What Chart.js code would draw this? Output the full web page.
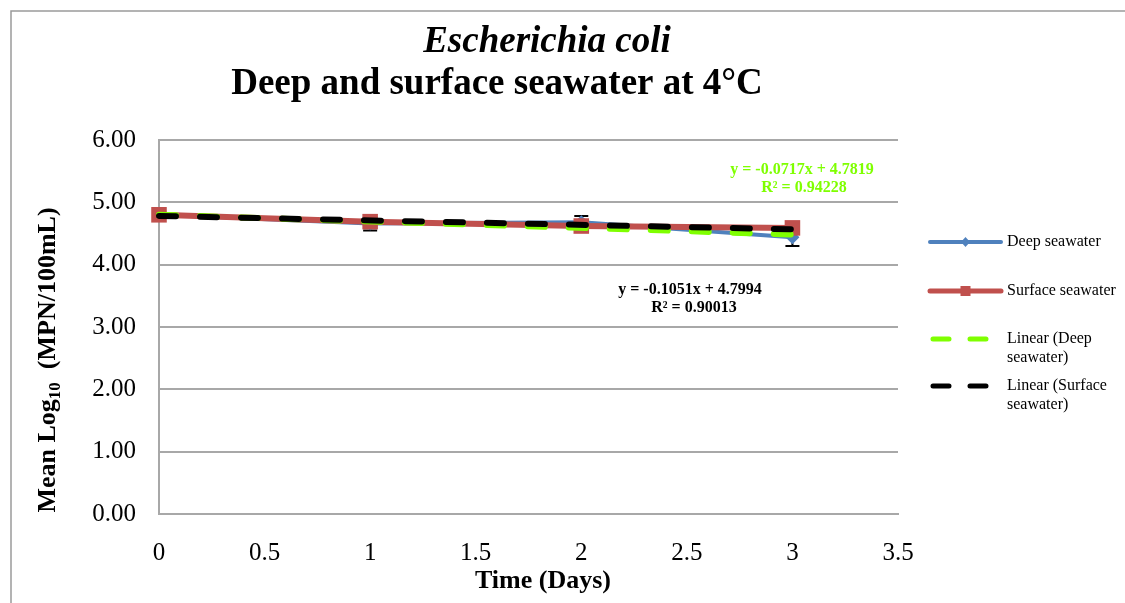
<!DOCTYPE html>
<html>
<head>
<meta charset="utf-8">
<script src="https://cdn.jsdelivr.net/npm/chart.js@4.4.1/dist/chart.umd.min.js"></script>
<style>
html,body{margin:0;padding:0;background:#fff;}
#wrap{width:1125px;height:603px;position:relative;}
</style>
</head>
<body>
<div id="wrap"><canvas id="c" width="1125" height="603"></canvas></div>
<script>
// ---- data ----
const days = [0, 1, 2, 3];
const deepSeawater = [4.80, 4.66, 4.68, 4.44];
const surfaceSeawater = [4.80, 4.69, 4.62, 4.59];
const deepError = [0, 0.11, 0.10, 0.14];
const trendX = [0, 3];
const trendDeep = [4.7994, 4.4841];     // green dashed
const trendSurface = [4.7819, 4.5668];  // black dashed
const xTicks = [0, 0.5, 1, 1.5, 2, 2.5, 3, 3.5];
const yTicks = [0, 1, 2, 3, 4, 5, 6];
const titleLine1 = 'Escherichia coli';
const titleLine2 = 'Deep and surface seawater at 4°C';
const xTitle = 'Time (Days)';
const eqGreen = ['y = -0.0717x + 4.7819', 'R² = 0.94228'];
const eqBlack = ['y = -0.1051x + 4.7994', 'R² = 0.90013'];
const legendItems = [
  {label: ['Deep seawater'], kind: 'deep'},
  {label: ['Surface seawater'], kind: 'surface'},
  {label: ['Linear (Deep', 'seawater)'], kind: 'green'},
  {label: ['Linear (Surface', 'seawater)'], kind: 'black'}
];

const BLUE = '#4F81BD', RED = '#C0504D', GREEN = '#7FFF00', BLACK = '#000000';
const SERIF = '"Liberation Serif", "Times New Roman", serif';

const pts = (xs, ys) => xs.map((x, i) => ({x: x, y: ys[i]}));

const errorBars = {
  id: 'errorBars',
  beforeDatasetsDraw(chart) {
    const {ctx, scales: {x, y}} = chart;
    ctx.save();
    ctx.strokeStyle = '#000';
    ctx.lineWidth = 2;
    days.forEach((d, i) => {
      const e = deepError[i];
      if (!e) return;
      const px = x.getPixelForValue(d);
      const top = y.getPixelForValue(deepSeawater[i] + e);
      const bot = y.getPixelForValue(deepSeawater[i] - e);
      ctx.beginPath();
      ctx.moveTo(px, top); ctx.lineTo(px, bot);
      ctx.moveTo(px - 7, top); ctx.lineTo(px + 7, top);
      ctx.moveTo(px - 7, bot); ctx.lineTo(px + 7, bot);
      ctx.stroke();
    });
    ctx.restore();
  }
};

const decor = {
  id: 'decor',
  afterDraw(chart) {
    const {ctx} = chart;
    ctx.save();
    // outer border
    ctx.strokeStyle = '#9A9A9A';
    ctx.lineWidth = 1.5;
    ctx.beginPath();
    ctx.moveTo(11, 603); ctx.lineTo(11, 11); ctx.lineTo(1125, 11);
    ctx.stroke();

    // titles
    ctx.fillStyle = '#000';
    ctx.textAlign = 'center';
    ctx.textBaseline = 'middle';
    ctx.font = 'italic bold 37px ' + SERIF;
    ctx.fillText(titleLine1, 547, 42);
    ctx.font = 'bold 37px ' + SERIF;
    ctx.fillText(titleLine2, 497, 84);

    // x title
    ctx.font = 'bold 26px ' + SERIF;
    ctx.fillText(xTitle, 543, 581);

    // y title with subscript
    ctx.save();
    ctx.translate(46, 360);
    ctx.rotate(-Math.PI / 2);
    const fMain = 'bold 26px ' + SERIF, fSub = 'bold 17px ' + SERIF;
    const parts = [['Mean Log', fMain, 0], ['10', fSub, 5], ['  (MPN/100mL)', fMain, 0]];
    let total = 0;
    parts.forEach(p => { ctx.font = p[1]; total += ctx.measureText(p[0]).width; });
    let cx = -total / 2;
    ctx.textAlign = 'left';
    ctx.textBaseline = 'alphabetic';
    parts.forEach(p => {
      ctx.font = p[1];
      ctx.fillText(p[0], cx, 9 + p[2]);
      cx += ctx.measureText(p[0]).width;
    });
    ctx.restore();

    // trendline equations
    ctx.textAlign = 'center';
    ctx.textBaseline = 'middle';
    ctx.font = 'bold 16px ' + SERIF;
    ctx.fillStyle = GREEN;
    ctx.fillText(eqGreen[0], 802, 170);
    ctx.fillText(eqGreen[1], 804, 188);
    ctx.fillStyle = '#000';
    ctx.fillText(eqBlack[0], 690, 290);
    ctx.fillText(eqBlack[1], 694, 308);

    // legend
    const ys = [242, 291, 339, 386];
    ctx.textAlign = 'left';
    ctx.textBaseline = 'middle';
    ctx.font = '16px ' + SERIF;
    legendItems.forEach((it, i) => {
      const y0 = ys[i];
      const x0 = 930, x1 = 1001;
      ctx.lineCap = 'round';
      if (it.kind === 'deep') {
        ctx.strokeStyle = BLUE; ctx.lineWidth = 4;
        ctx.beginPath(); ctx.moveTo(x0, y0); ctx.lineTo(x1, y0); ctx.stroke();
        ctx.fillStyle = BLUE;
        ctx.beginPath(); ctx.moveTo(965.5, y0 - 5); ctx.lineTo(970, y0); ctx.lineTo(965.5, y0 + 5); ctx.lineTo(961, y0); ctx.closePath(); ctx.fill();
      } else if (it.kind === 'surface') {
        ctx.strokeStyle = RED; ctx.lineWidth = 5;
        ctx.beginPath(); ctx.moveTo(x0, y0); ctx.lineTo(x1, y0); ctx.stroke();
        ctx.fillStyle = RED;
        ctx.fillRect(960.5, y0 - 5, 10, 10);
      } else {
        ctx.strokeStyle = it.kind === 'green' ? GREEN : BLACK;
        ctx.lineWidth = 5;
        ctx.beginPath();
        ctx.moveTo(933, y0); ctx.lineTo(949, y0);
        ctx.moveTo(970, y0); ctx.lineTo(986, y0);
        ctx.stroke();
      }
      ctx.fillStyle = '#000';
      it.label.forEach((t, k) => ctx.fillText(t, 1007, y0 + k * 19));
    });
    ctx.restore();
  }
};

new Chart(document.getElementById('c'), {
  type: 'line',
  data: {
    datasets: [
      {
        label: 'Linear (Surface seawater)',
        data: pts(trendX, trendSurface),
        borderColor: BLACK, borderWidth: 6, borderDash: [17, 24], borderCapStyle: 'round',
        pointRadius: 0, order: 1, clip: false
      },
      {
        label: 'Linear (Deep seawater)',
        data: pts(trendX, trendDeep),
        borderColor: GREEN, borderWidth: 6, borderDash: [17, 24], borderCapStyle: 'round',
        pointRadius: 0, order: 2, clip: false
      },
      {
        label: 'Surface seawater',
        data: pts(days, surfaceSeawater),
        borderColor: RED, backgroundColor: RED, borderWidth: 6,
        pointStyle: 'rect', pointRadius: 11, pointBorderWidth: 0, order: 3, clip: false
      },
      {
        label: 'Deep seawater',
        data: pts(days, deepSeawater),
        borderColor: BLUE, backgroundColor: BLUE, borderWidth: 4,
        pointStyle: 'rectRot', pointRadius: 7, pointBorderWidth: 0, order: 4, clip: false
      }
    ]
  },
  options: {
    responsive: false,
    animation: false,
    events: [],
    layout: {padding: {left: 0, top: 140, right: 227, bottom: 0}},
    plugins: {legend: {display: false}, title: {display: false}, tooltip: {enabled: false}},
    elements: {line: {tension: 0}},
    scales: {
      x: {
        type: 'linear', min: 0, max: 3.5,
        afterBuildTicks: s => { s.ticks = xTicks.map(v => ({value: v})); },
        afterFit: s => { s.height = 89; },
        grid: {display: false, drawTicks: false},
        border: {display: true, color: '#A8A8A8', width: 2},
        ticks: {padding: 24, color: '#000', font: {family: SERIF, size: 25}, callback: v => String(v)}
      },
      y: {
        type: 'linear', min: 0, max: 6,
        afterBuildTicks: s => { s.ticks = yTicks.map(v => ({value: v})); },
        afterFit: s => { s.width = 159; },
        grid: {color: '#A8A8A8', lineWidth: 2, drawTicks: false},
        border: {display: true, color: '#A8A8A8', width: 2},
        ticks: {padding: 23, color: '#000', font: {family: SERIF, size: 25}, callback: v => v.toFixed(2)}
      }
    }
  },
  plugins: [errorBars, decor]
});
</script>
</body>
</html>
